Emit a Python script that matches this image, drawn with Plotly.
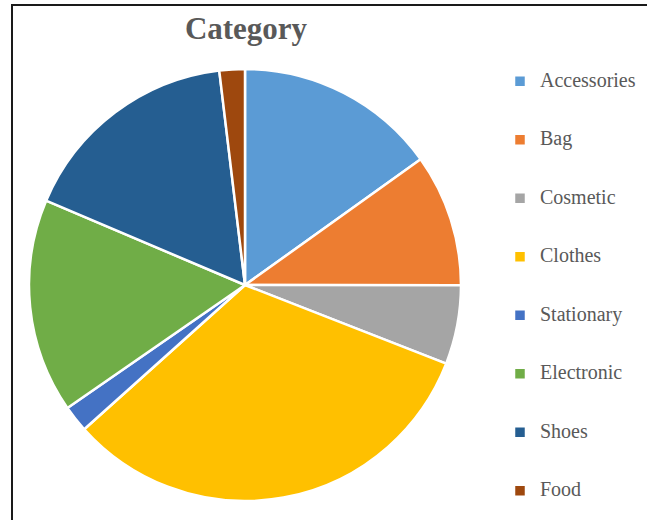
import plotly.graph_objects as go

categories = ["Accessories", "Bag", "Cosmetic", "Clothes", "Stationary", "Electronic", "Shoes", "Food"]
values = [15.1, 9.9, 5.9, 32.4, 2.0, 16.0, 16.7, 1.9]
colors = ["#5B9BD5", "#ED7D31", "#A5A5A5", "#FFC000", "#4472C4", "#70AD47", "#255E91", "#9E480E"]

W, H = 647, 520
cx, cy, r = 245, 285, 216

legend_labels = ["\u00a0<br><span style='font-size:20px'>%s</span><br>\u00a0" % c for c in categories]

fig = go.Figure(go.Pie(
    labels=legend_labels,
    values=values,
    customdata=categories,
    hovertemplate="%{customdata}: %{percent}<extra></extra>",
    sort=False,
    direction="clockwise",
    rotation=0,
    textinfo="none",
    marker=dict(colors=colors, line=dict(color="white", width=2.5)),
    domain=dict(x=[(cx - r) / W, (cx + r) / W], y=[(H - cy - r) / H, (H - cy + r) / H]),
))

fig.update_layout(
    width=W, height=H,
    margin=dict(l=0, r=0, t=0, b=0, autoexpand=False),
    paper_bgcolor="white",
    title=dict(text="<b>Category</b>", x=246 / W, xanchor="center", y=1 - 28 / H, yanchor="middle",
               font=dict(family="Liberation Serif", size=31, color="#595959")),
    legend=dict(x=500 / W, xanchor="left", y=1 - 47 / H, yanchor="top",
                font=dict(family="Liberation Serif", size=14.23, color="#595959"),
                bgcolor="rgba(0,0,0,0)"),
    shapes=[dict(type="rect", xref="paper", yref="paper", x0=12 / W, x1=1.2, y0=-0.2, y1=1 - 5 / H,
                 line=dict(color="#1a1a1a", width=2))],
)

fig.write_html("out.html")
